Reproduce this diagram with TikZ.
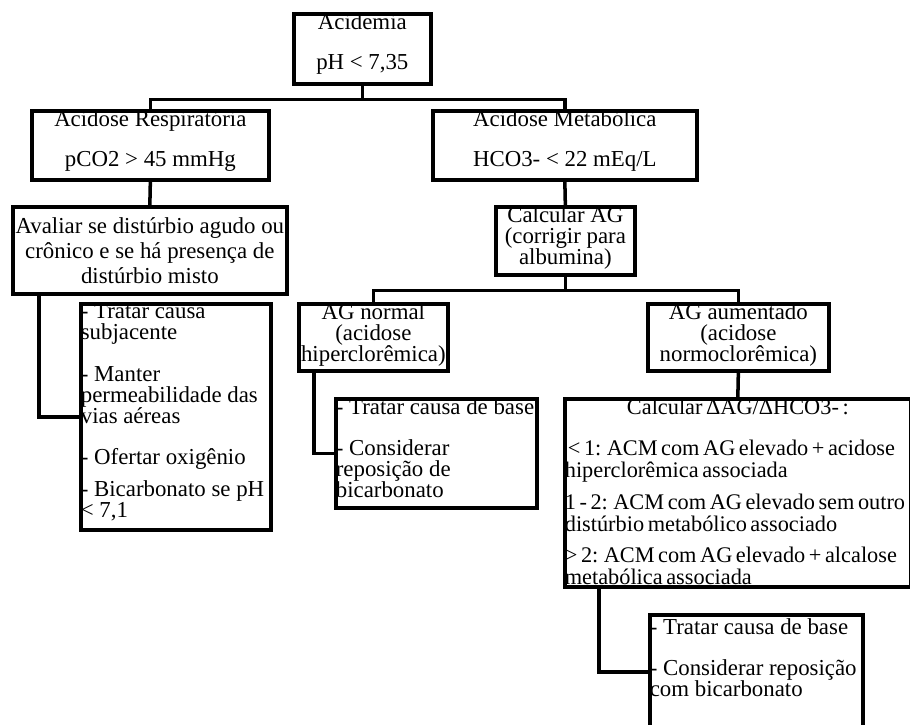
\documentclass[tikz,border=0pt]{standalone}
\usepackage{fontspec}
\setmainfont{Liberation Serif}
\usepackage{tikz}
\newlength{\unitpx}
\setlength{\unitpx}{0.02cm}
\tikzset{
    flowbox/.style={
           rectangle,
           draw=black, line width=2.1pt,
           inner sep=0pt,
           anchor=north west,
           font=\fontsize{13}{11.9}\selectfont,
           text=black
           },
    elbow/.style={to path={(\tikztostart) -- ++(0,14) -| (\tikztotarget)}},
    hook/.style={to path={(\tikztostart) |- (\tikztotarget)}},
}
\begin{document}
\begin{tikzpicture}[x=0.02cm,y=-0.02cm,line width=2pt]
\useasboundingbox (0,0) rectangle (910,724);
\clip (0,0) rectangle (910,724);

% Top: acidemia
\node[flowbox] (ACIDEMIA) at (292,12) {%
  \parbox[c][70\unitpx][t]{137\unitpx}{\centering
    Acidemia\\[19\unitpx] pH < 7,35}
};

% Respiratory branch
\node[flowbox] (RESP) at (30,109) {%
  \parbox[c][69\unitpx][t]{237\unitpx}{\centering
    Acidose Respiratória\\[19\unitpx] pCO2 > 45 mmHg}
};

\node[flowbox] (AVALIAR) at (11,205) {%
  \parbox[c][87\unitpx][c]{274\unitpx}{\centering\fontsize{13}{14.2}\selectfont
    Avaliar se distúrbio agudo ou\\ crônico e se há presença de\\ distúrbio misto}
};

\node[flowbox] (TRATRESP) at (79,302) {%
  \parbox[c][226\unitpx][t]{190\unitpx}{\raggedright
    - Tratar causa\\ subjacente\\[21\unitpx]
    - Manter\\ permeabilidade das\\ vias aéreas\\[20\unitpx]
    - Ofertar oxigênio\\[11\unitpx]
    - Bicarbonato se pH\\ < 7,1}
};

% Metabolic branch
\node[flowbox] (METAB) at (431,109) {%
  \parbox[c][69\unitpx][t]{264\unitpx}{\centering
    Acidose Metabólica\\[19\unitpx] HCO3- < 22 mEq/L}
};

\node[flowbox] (CALCAG) at (494,205) {%
  \parbox[c][68\unitpx][t]{139\unitpx}{\centering
    Calcular AG\\ (corrigir para\\ albumina)}
};

\node[flowbox] (AGNORMAL) at (297,302) {%
  \parbox[c][67\unitpx][t]{149\unitpx}{\centering
    AG normal\\ (acidose\\ hiperclorêmica)}
};

\node[flowbox] (TRATNORMAL) at (334,397) {%
  \parbox[c][109\unitpx][t]{201\unitpx}{\raggedright
    - Tratar causa de base\\[20\unitpx]
    - Considerar\\ reposição de\\ bicarbonato}
};

\node[flowbox] (AGAUM) at (646,302) {%
  \parbox[c][67\unitpx][t]{181\unitpx}{\centering
    AG aumentado\\ (acidose\\ normoclorêmica)}
};

\node[flowbox] (DELTA) at (563,397) {%
  \parbox[c][188\unitpx][t]{346\unitpx}{\fontsize{12.7}{12.5}\selectfont
    \spaceskip=0.16em
    \centering Calcular ΔAG/ΔHCO3- :\par\vspace{19\unitpx}
    \raggedright
    \mbox{\hspace*{3\unitpx}< 1: ACM com AG elevado + acidose}\\
    \mbox{hiperclorêmica associada}\\[10\unitpx]
    \mbox{1 - 2: ACM com AG elevado sem outro}\\
    \mbox{distúrbio metabólico associado}\\[9\unitpx]
    \mbox{> 2: ACM com AG elevado + alcalose}\\
    \mbox{metabólica associada}}
};

\node[flowbox] (TRATAUM) at (648,613) {%
  \parbox[c][114\unitpx][t]{213\unitpx}{\raggedright
    \vspace*{4\unitpx}
    - Tratar causa de base\\[20\unitpx]
    - Considerar reposição\\ com bicarbonato}
};

\path (ACIDEMIA.south) edge[elbow] (RESP.north)
      (ACIDEMIA.south) edge[elbow] (METAB.north)
      (RESP.south)     edge         (AVALIAR.north)
      ([xshift=28\unitpx]AVALIAR.south west) edge[hook] (TRATRESP.west)
      (METAB.south)    edge         (CALCAG.north)
      (CALCAG.south)   edge[elbow] (AGNORMAL.north)
      (CALCAG.south)   edge[elbow] (AGAUM.north)
      ([xshift=17\unitpx]AGNORMAL.south west) edge[hook] (TRATNORMAL.west)
      (AGAUM.south)    edge         (DELTA.north)
      ([xshift=36\unitpx]DELTA.south west) edge[hook] (TRATAUM.west)
;

\end{tikzpicture}
\end{document}
